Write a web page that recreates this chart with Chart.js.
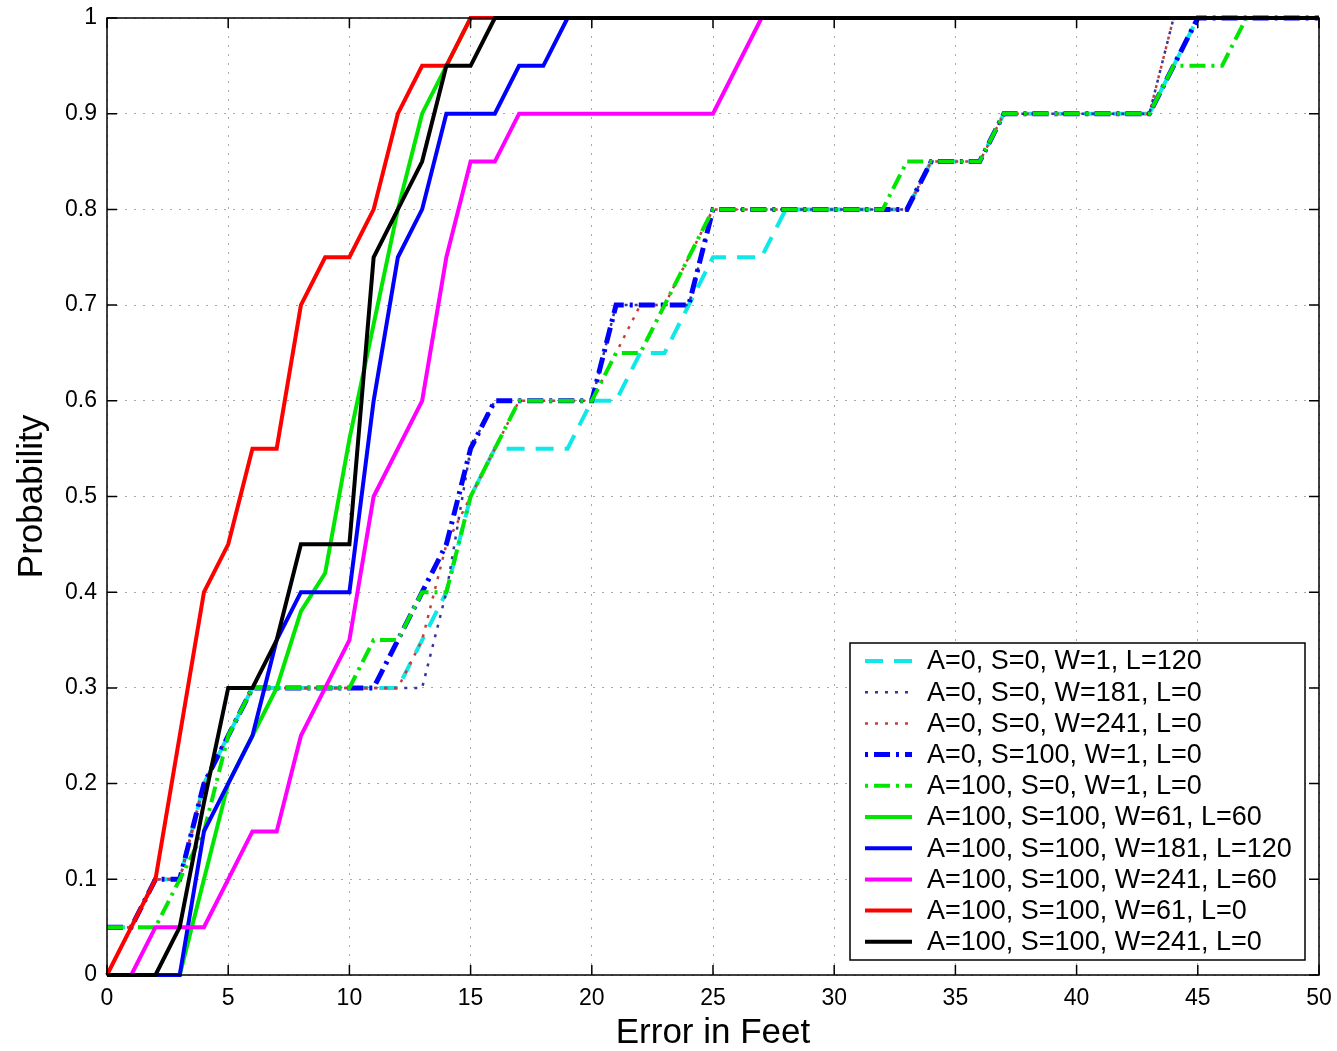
<!DOCTYPE html>
<html lang="en">
<head>
<meta charset="UTF-8">
<title>Error in Feet CDF</title>
<script src="https://cdn.jsdelivr.net/npm/chart.js"></script>
<style>
  body { margin: 0; background: #fff; }
  #wrap { width: 1337px; height: 1051px; }
</style>
</head>
<body>
<div id="wrap"><canvas id="cdfChart" width="1337" height="1051"></canvas></div>
<script>
// legend labels, in plotting order
const seriesLabels = [
    'A=0, S=0, W=1, L=120',
    'A=0, S=0, W=181, L=0',
    'A=0, S=0, W=241, L=0',
    'A=0, S=100, W=1, L=0',
    'A=100, S=0, W=1, L=0',
    'A=100, S=100, W=61, L=60',
    'A=100, S=100, W=181, L=120',
    'A=100, S=100, W=241, L=60',
    'A=100, S=100, W=61, L=0',
    'A=100, S=100, W=241, L=0'
];

// error (feet) and cumulative probability
const cyanX = [0, 1, 2, 3, 4, 5, 6, 12, 13, 14, 15, 16, 19, 20, 21, 22, 23, 24, 25, 27, 28, 33, 34, 36, 37, 43, 44, 45, 50];
const cyanY = [0.05, 0.05, 0.1, 0.1, 0.2, 0.25, 0.3, 0.3, 0.35, 0.4, 0.5, 0.55, 0.55, 0.6, 0.6, 0.65, 0.65, 0.7, 0.75, 0.75, 0.8, 0.8, 0.85, 0.85, 0.9, 0.9, 0.95, 1, 1];

const dot181X = [0, 1, 2, 3, 4, 5, 6, 13, 14, 15, 16, 20, 21, 24, 25, 33, 34, 36, 37, 43, 44, 50];
const dot181Y = [0.05, 0.05, 0.1, 0.1, 0.2, 0.25, 0.3, 0.3, 0.4, 0.55, 0.6, 0.6, 0.7, 0.7, 0.8, 0.8, 0.85, 0.85, 0.9, 0.9, 1, 1];

const dot241X = [0, 1, 2, 3, 4, 5, 6, 12, 13, 14, 15, 16, 17, 20, 21, 22, 23, 24, 25, 33, 34, 36, 37, 43, 44, 50];
const dot241Y = [0.05, 0.05, 0.1, 0.1, 0.2, 0.25, 0.3, 0.3, 0.35, 0.45, 0.5, 0.55, 0.6, 0.6, 0.65, 0.7, 0.7, 0.75, 0.8, 0.8, 0.85, 0.85, 0.9, 0.9, 1, 1];

const s100X = [0, 1, 2, 3, 4, 5, 6, 11, 12, 13, 14, 15, 16, 20, 21, 24, 25, 33, 34, 36, 37, 43, 44, 45, 50];
const s100Y = [0.05, 0.05, 0.1, 0.1, 0.2, 0.25, 0.3, 0.3, 0.35, 0.4, 0.45, 0.55, 0.6, 0.6, 0.7, 0.7, 0.8, 0.8, 0.85, 0.85, 0.9, 0.9, 0.95, 1, 1];

const a100X = [0, 1, 2, 3, 4, 5, 6, 10, 11, 12, 13, 14, 15, 16, 17, 20, 21, 22, 23, 24, 25, 32, 33, 36, 37, 43, 44, 46, 47, 50];
const a100Y = [0.05, 0.05, 0.05, 0.1, 0.15, 0.25, 0.3, 0.3, 0.35, 0.35, 0.4, 0.4, 0.5, 0.55, 0.6, 0.6, 0.65, 0.65, 0.7, 0.75, 0.8, 0.8, 0.85, 0.85, 0.9, 0.9, 0.95, 0.95, 1, 1];

const w61l60X = [0, 3, 4, 5, 6, 7, 8, 9, 10, 11, 12, 13, 14, 15, 50];
const w61l60Y = [0, 0, 0.1, 0.2, 0.25, 0.3, 0.38, 0.42, 0.56, 0.68, 0.8, 0.9, 0.95, 1, 1];

const w181l120X = [0, 3, 4, 5, 6, 7, 8, 10, 11, 12, 13, 14, 16, 17, 18, 19, 50];
const w181l120Y = [0, 0, 0.15, 0.2, 0.25, 0.35, 0.4, 0.4, 0.6, 0.75, 0.8, 0.9, 0.9, 0.95, 0.95, 1, 1];

const w241l60X = [0, 1, 2, 4, 5, 6, 7, 8, 9, 10, 11, 12, 13, 14, 15, 16, 17, 25, 27, 50];
const w241l60Y = [0, 0, 0.05, 0.05, 0.1, 0.15, 0.15, 0.25, 0.3, 0.35, 0.5, 0.55, 0.6, 0.75, 0.85, 0.85, 0.9, 0.9, 1, 1];

const w61l0X = [0, 1, 2, 3, 4, 5, 6, 7, 8, 9, 10, 11, 12, 13, 14, 15, 50];
const w61l0Y = [0, 0.05, 0.1, 0.25, 0.4, 0.45, 0.55, 0.55, 0.7, 0.75, 0.75, 0.8, 0.9, 0.95, 0.95, 1, 1];

const w241l0X = [0, 2, 3, 4, 5, 6, 7, 8, 10, 11, 12, 13, 14, 15, 16, 50];
const w241l0Y = [0, 0, 0.05, 0.18, 0.3, 0.3, 0.35, 0.45, 0.45, 0.75, 0.8, 0.85, 0.95, 0.95, 1, 1];

const xTicksStep = 5;
const yTicksStep = 0.1;

function pts(xs, ys) {
    return xs.map((x, i) => ({ x: x, y: ys[i] }));
}

// matlab-ish line styles
const styles = [
    { data: pts(cyanX, cyanY),         color: '#10e8e8', width: 4, dash: [18, 11] },
    { data: pts(dot181X, dot181Y),     color: '#35359a', width: 2.5, dash: [3, 7] },
    { data: pts(dot241X, dot241Y),     color: '#c83c3c', width: 2.5, dash: [3, 7] },
    { data: pts(s100X, s100Y),         color: '#0000ff', width: 5, dash: [16, 6, 3, 6] },
    { data: pts(a100X, a100Y),         color: '#00e600', width: 4, dash: [16, 6, 3, 6] },
    { data: pts(w61l60X, w61l60Y),     color: '#00e600', width: 4, dash: [] },
    { data: pts(w181l120X, w181l120Y), color: '#0000ff', width: 4, dash: [] },
    { data: pts(w241l60X, w241l60Y),   color: '#ff00ff', width: 4, dash: [] },
    { data: pts(w61l0X, w61l0Y),       color: '#ff0000', width: 4, dash: [] },
    { data: pts(w241l0X, w241l0Y),     color: '#000000', width: 4, dash: [] }
];

const datasets = styles.map((s, i) => ({
    label: seriesLabels[i],
    data: s.data,
    borderColor: s.color,
    borderWidth: s.width,
    borderDash: s.dash,
    borderCapStyle: 'butt',
    borderJoinStyle: 'miter',
    pointRadius: 0,
    tension: 0,
    fill: false,
    clip: false,
    order: styles.length - 1 - i   // last one plotted ends up on top
}));

const FONT = '"Liberation Sans", Arial, Helvetica, sans-serif';

// box, inward ticks on all four sides
const axesBox = {
    id: 'axesBox',
    afterDatasetsDraw(chart) {
        const { ctx, chartArea: a, scales: { x, y } } = chart;
        ctx.save();
        ctx.strokeStyle = '#000';
        ctx.lineWidth = 1.5;
        ctx.setLineDash([]);
        ctx.strokeRect(a.left, a.top, a.right - a.left, a.bottom - a.top);
        ctx.beginPath();
        x.ticks.forEach(t => {
            const px = x.getPixelForValue(t.value);
            ctx.moveTo(px, a.bottom); ctx.lineTo(px, a.bottom - 10);
            ctx.moveTo(px, a.top); ctx.lineTo(px, a.top + 10);
        });
        y.ticks.forEach(t => {
            const py = y.getPixelForValue(t.value);
            ctx.moveTo(a.left, py); ctx.lineTo(a.left + 10, py);
            ctx.moveTo(a.right, py); ctx.lineTo(a.right - 10, py);
        });
        ctx.stroke();
        ctx.restore();
    }
};

// legend box inside the plot, bottom right
const boxLegend = {
    id: 'boxLegend',
    afterDraw(chart) {
        const { ctx, chartArea: a } = chart;
        const w = 455, h = 317;
        const right = a.right - 14, bottom = a.bottom - 15;
        const left = right - w, top = bottom - h;
        ctx.save();
        ctx.fillStyle = '#fff';
        ctx.fillRect(left, top, w, h);
        ctx.strokeStyle = '#000';
        ctx.lineWidth = 1.5;
        ctx.strokeRect(left, top, w, h);
        ctx.font = '27px ' + FONT;
        ctx.textBaseline = 'middle';
        ctx.fillStyle = '#000';
        chart.data.datasets.forEach((ds, i) => {
            const yy = top + 18 + i * 31.2;
            ctx.save();
            ctx.strokeStyle = ds.borderColor;
            ctx.lineWidth = ds.borderWidth;
            ctx.setLineDash(ds.borderDash);
            ctx.lineDashOffset = ds.borderDash.length === 4 ? 22 : 0;
            ctx.beginPath();
            ctx.moveTo(left + 15, yy);
            ctx.lineTo(left + 62, yy);
            ctx.stroke();
            ctx.restore();
            ctx.fillText(ds.label, left + 77, yy + 1);
        });
        ctx.restore();
    }
};

new Chart(document.getElementById('cdfChart'), {
    type: 'line',
    data: { datasets: datasets },
    options: {
        responsive: false,
        animation: false,
        layout: { padding: { top: 18, right: 18, left: 0, bottom: 0 } },
        plugins: {
            legend: { display: false },
            tooltip: { enabled: false }
        },
        scales: {
            x: {
                type: 'linear',
                min: 0,
                max: 50,
                afterFit(scale) {
                    scale.height = 76;
                    scale.paddingLeft = 0;
                    scale.paddingRight = 0;
                },
                ticks: {
                    stepSize: xTicksStep,
                    color: '#000',
                    padding: 10,
                    maxRotation: 0,
                    font: { family: FONT, size: 23 }
                },
                grid: { color: '#a8a8a8', lineWidth: 1, drawTicks: false },
                border: { display: false, dash: [2, 7] },
                title: {
                    display: true,
                    text: 'Error in Feet',
                    color: '#000',
                    padding: { top: 0, bottom: 0 },
                    font: { family: FONT, size: 35, lineHeight: 1.0 }
                }
            },
            y: {
                min: 0,
                max: 1,
                afterFit(scale) {
                    scale.width = 107;
                    scale.paddingTop = 0;
                    scale.paddingBottom = 0;
                },
                ticks: {
                    stepSize: yTicksStep,
                    color: '#000',
                    padding: 10,
                    font: { family: FONT, size: 23 },
                    callback: v => String(+v.toFixed(2))
                },
                grid: { color: '#a8a8a8', lineWidth: 1, drawTicks: false },
                border: { display: false, dash: [2, 7] },
                title: {
                    display: true,
                    text: 'Probability',
                    color: '#000',
                    padding: { top: 11, bottom: 0 },
                    font: { family: FONT, size: 35 }
                }
            }
        }
    },
    plugins: [axesBox, boxLegend]
});
</script>
</body>
</html>
